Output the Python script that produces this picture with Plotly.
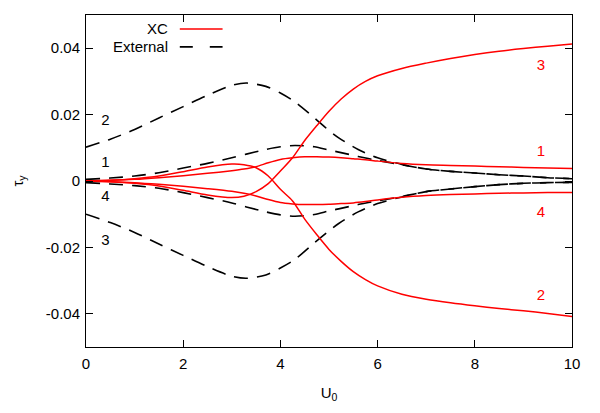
import plotly.graph_objects as go

# ---------------- data ----------------
x_ext = [0, 0.5, 1, 1.5, 2, 2.5, 3, 3.3, 3.7, 4, 4.3, 4.7, 5, 5.2, 5.6, 6, 6.5, 7, 7.5, 8, 8.5, 9, 9.5, 10]
ext1 = [0.0005, 0.0009, 0.0015, 0.0025, 0.0039, 0.0053, 0.0070, 0.0081, 0.0095, 0.0103, 0.0107, 0.0103, 0.0093, 0.0087, 0.0074, 0.0062, 0.0049, 0.0036, 0.0029, 0.0024, 0.0019, 0.0015, 0.0010, 0.0007]
ext2 = [0.0102, 0.0126, 0.0155, 0.0190, 0.0224, 0.0258, 0.0288, 0.0295, 0.0285, 0.0265, 0.0238, 0.0190, 0.0152, 0.0130, 0.0095, 0.0070, 0.0050, 0.0036, 0.0029, 0.0024, 0.0019, 0.0015, 0.0010, 0.0007]
ext3 = [-0.0100, -0.0125, -0.0155, -0.0190, -0.0224, -0.0258, -0.0287, -0.0293, -0.0283, -0.0262, -0.0236, -0.0186, -0.0150, -0.0128, -0.0093, -0.0068, -0.0048, -0.0032, -0.0024, -0.0017, -0.0011, -0.0007, -0.0005, -0.0004]
ext4 = [-0.0005, -0.0009, -0.0014, -0.0022, -0.0035, -0.0050, -0.0066, -0.0078, -0.0093, -0.0102, -0.0106, -0.0101, -0.0090, -0.0084, -0.0071, -0.0060, -0.0047, -0.0032, -0.0024, -0.0017, -0.0011, -0.0007, -0.0005, -0.0004]

x_xc = [0, 0.5, 1, 1.5, 2, 2.5, 3, 3.25, 3.5, 3.75, 4, 4.25, 4.5, 4.75, 5, 5.25, 5.5, 5.75, 6, 6.5, 7, 7.5, 8, 8.5, 9, 9.5, 10]
xc1 = [0, 0.0002, 0.0005, 0.0010, 0.0016, 0.0023, 0.0031, 0.0036, 0.0043, 0.0055, 0.0065, 0.0070, 0.0073, 0.0073, 0.0072, 0.0070, 0.0067, 0.0064, 0.0060, 0.0053, 0.0049, 0.0047, 0.0045, 0.0043, 0.0041, 0.0039, 0.0038]
xc2 = [0, 0.0002, 0.0007, 0.0015, 0.0028, 0.0042, 0.0051, 0.0049, 0.0040, 0.0015, -0.0025, -0.0060, -0.0115, -0.0162, -0.0206, -0.0242, -0.0273, -0.0297, -0.0316, -0.0341, -0.0356, -0.0367, -0.0376, -0.0384, -0.0391, -0.0399, -0.0408]
xc3 = [0, -0.0002, -0.0007, -0.0015, -0.0028, -0.0042, -0.0050, -0.0046, -0.0032, -0.0008, 0.0030, 0.0070, 0.0122, 0.0167, 0.0210, 0.0247, 0.0277, 0.0300, 0.0317, 0.0339, 0.0355, 0.0369, 0.0381, 0.0391, 0.0399, 0.0406, 0.0413]
xc4 = [0, -0.0002, -0.0005, -0.0010, -0.0016, -0.0023, -0.0031, -0.0037, -0.0045, -0.0056, -0.0065, -0.0069, -0.0071, -0.0071, -0.0070, -0.0068, -0.0066, -0.0062, -0.0057, -0.0049, -0.0044, -0.0041, -0.0039, -0.0037, -0.0036, -0.0035, -0.0035]

ext_labels = ["2", "1", "4", "3"]
ext_label_x = [0.4, 0.4, 0.4, 0.4]
ext_label_y = [0.018, 0.0052, -0.0048, -0.018]
xc_labels = ["3", "1", "4", "2"]
xc_label_x = [9.36, 9.36, 9.36, 9.36]
xc_label_y = [0.0347, 0.0088, -0.0097, -0.0347]

x_ticks = [0, 2, 4, 6, 8, 10]
y_ticks = [-0.04, -0.02, 0, 0.02, 0.04]
y_ticktext = ["-0.04", "-0.02", "0", "0.02", "0.04"]

# ---------------- figure ----------------
FONT = "Liberation Sans, Arial, sans-serif"
FS = 15
fig = go.Figure()

for ys in (ext1, ext2, ext3, ext4):
    fig.add_trace(go.Scatter(x=x_ext, y=ys, mode="lines",
                             line=dict(color="black", width=1.6, dash="14px,9px",
                                       shape="spline", smoothing=0.8),
                             showlegend=False, hoverinfo="skip"))
for ys in (xc1, xc2, xc3, xc4):
    fig.add_trace(go.Scatter(x=x_xc, y=ys, mode="lines",
                             line=dict(color="red", width=1.5,
                                       shape="spline", smoothing=0.8),
                             showlegend=False, hoverinfo="skip"))

fig.add_trace(go.Scatter(x=ext_label_x, y=ext_label_y, mode="text", text=ext_labels,
                         textfont=dict(family=FONT, size=FS, color="black"),
                         showlegend=False, hoverinfo="skip"))
fig.add_trace(go.Scatter(x=xc_label_x, y=xc_label_y, mode="text", text=xc_labels,
                         textfont=dict(family=FONT, size=FS, color="red"),
                         showlegend=False, hoverinfo="skip"))

# custom gnuplot-style legend (text first, line sample after it)
legend_items = [("XC", "red", "solid", 0.958), ("External", "black", "13px,17px", 0.904)]
for name, col, dash, yy in legend_items:
    fig.add_annotation(x=0.173, y=yy, xref="paper", yref="paper", text=name,
                       showarrow=False, xanchor="right", yanchor="middle",
                       font=dict(family=FONT, size=FS, color="black"))
    fig.add_shape(type="line", xref="paper", yref="paper", x0=0.193, x1=0.281,
                  y0=yy, y1=yy, line=dict(color=col, width=1.6, dash=dash))

axis_common = dict(showline=True, linecolor="black", linewidth=1, mirror="ticks",
                   ticks="inside", ticklen=7, tickcolor="black", tickwidth=1,
                   showgrid=False, zeroline=False,
                   tickfont=dict(family=FONT, size=FS, color="black"))

fig.update_xaxes(range=[0, 10], tickvals=x_ticks, ticklabelstandoff=3,
                 title=dict(text="U<sub>0</sub>", font=dict(family=FONT, size=FS, color="black"),
                            standoff=16),
                 **axis_common)
fig.update_yaxes(range=[-0.05, 0.05], tickvals=y_ticks, ticktext=y_ticktext, ticklabelstandoff=2,
                 title=dict(text="τ<sub>y</sub>", font=dict(family=FONT, size=FS, color="black"),
                            standoff=18),
                 **axis_common)

fig.update_layout(width=600, height=413, margin=dict(l=86, r=28, t=15, b=66),
                  plot_bgcolor="white", paper_bgcolor="white", showlegend=False)

fig.write_html("out.html")
